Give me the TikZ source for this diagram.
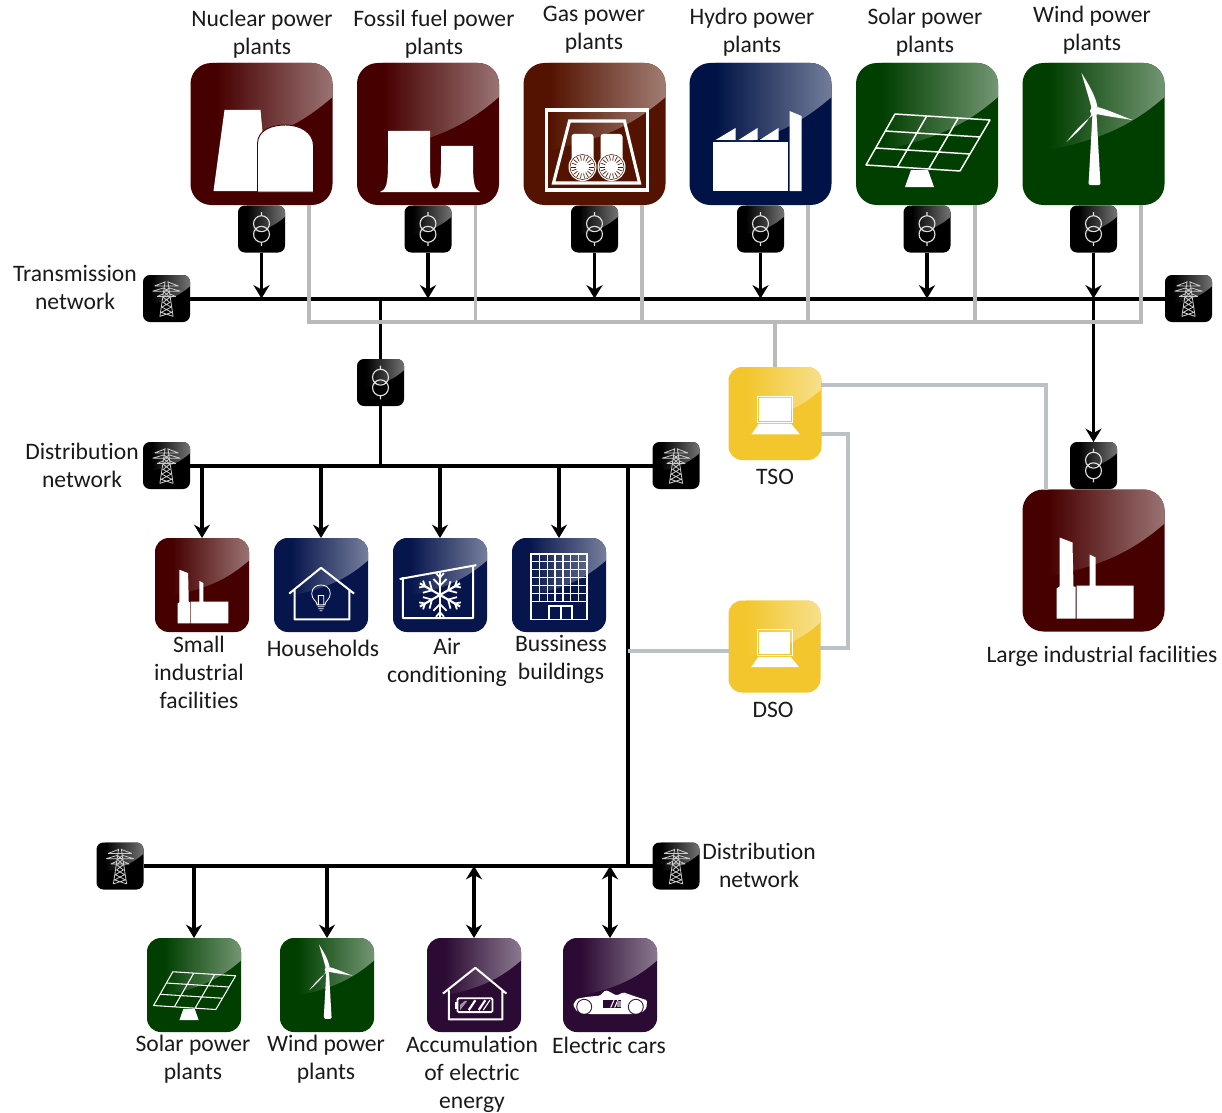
\documentclass[tikz,border=0pt]{standalone}
\usepackage{fontspec}
\setmainfont[Ligatures=CommonOff]{Carlito}
\usetikzlibrary{arrows.meta}
\definecolor{cRed}{HTML}{470000}
\definecolor{cBrown}{HTML}{541300}
\definecolor{cBlue}{HTML}{001346}
\definecolor{cBlueS}{HTML}{06154C}
\definecolor{cGreen}{HTML}{003F00}
\definecolor{cPurple}{HTML}{2B0A33}
\definecolor{cYellow}{HTML}{F2C62C}
\definecolor{cGrey}{HTML}{BABABA}
\definecolor{cGreyB}{HTML}{BCC1C6}
\definecolor{cText}{HTML}{1A1A1A}
\tikzset{
  iconbox/.style={inner sep=0pt,outer sep=0pt,draw=none},
  lab/.style={font=\fontsize{17.7}{21}\selectfont,align=center,inner sep=0pt,text=cText},
  pow/.style={line width=2.8pt,black},
  bus/.style={line width=3pt,black},
  sig/.style={line width=2.8pt,cGrey},
  sigb/.style={line width=2.8pt,cGreyB},
  tip/.style={-{Stealth[length=10pt,width=12pt]}},
  dtip/.style={{Stealth[length=10pt,width=12pt]}-{Stealth[length=10pt,width=12pt]}},
  ink/.style={fill=white,draw=none},
  wl/.style={draw=white,line width=#1,fill=none},
}
% name, cx, cy, size, colour, drawing
\newcommand\icn[6]{%
  \pgfmathsetmacro\rr{#4*0.11}%
  \node[iconbox,fill=#5,minimum size=#4*0.75pt,rounded corners=\rr pt] (#1) at (#2,#3) {};
  \begin{scope}[shift={(#2,#3)},scale=#4/142]
    \begin{scope}
      \clip[rounded corners=\rr pt] (-71,-71) rectangle (71,71);
      \shade[left color=#5,right color=#5!55!white] (-45,-71) -- (71,-71) -- (71,-37)
        .. controls (40,-10) and (10,5) .. (-45,16) -- cycle;
    \end{scope}
    #6
  \end{scope}}
\newcommand\trf[3]{\icn{#1}{#2}{#3}{47}{black}{%
  \draw[white!88!black,line width=0.85pt] (0,-16) circle[radius=24] (0,16) circle[radius=24]
    (0,-51) -- (0,-40) (0,40) -- (0,51);}}
\newcommand\twr[3]{\icn{#1}{#2}{#3}{47}{black}{%
  \draw[white!80!black,line width=0.6pt]
    (-4,-52) -- (-20,54) (4,-52) -- (20,54)
    (-36,-38) -- (36,-38) (-42,-22) -- (42,-22) (-28,-6) -- (28,-6)
    (-36,-38) -- (-4,-50) (36,-38) -- (4,-50) (-42,-22) -- (-8,-32) (42,-22) -- (8,-32)
    (-28,-6) -- (-10,-14) (28,-6) -- (10,-14)
    (-8,-32) -- (8,-20) -- (-10,-4) -- (10,12) -- (-14,26) -- (16,42) -- (-20,54)
    (8,-32) -- (-8,-20) -- (10,-4) -- (-10,12) -- (14,26) -- (-16,42) -- (20,54);}}
\newcommand\factory{%
  \fill[ink] (-34,-23) -- (-21,-18) -- (-20,26) -- (-18,26) -- (-18,58) -- (-37,58) -- (-37,28) -- (-34,26) -- cycle;
  \fill[ink] (-4,-6) -- (2,-3) -- (2,25) -- (40,25) -- (40,58) -- (-17,58) -- (-17,25) -- (-4,25) -- cycle;}
\newcommand\panel[1]{%
  \draw[white,line width=#1,line join=round] (-32,-20) -- (63,-14) -- (33,37) -- (-61,31) -- cycle
    (-0.3,-18) -- (-29.7,33) (31.3,-16) -- (1.7,35)
    (-41.7,-3) -- (53,3) (-51.3,14) -- (43,20);
  \fill[ink] (-16,36) -- (1,36) -- (7,53) -- (-22,53) -- cycle;}
\newcommand\turbine{%
  \fill[ink,rounded corners=1pt] (-1,-20) -- (3,-20) -- (7,51) -- (-5,51) -- cycle;
  \fill[ink] (1,-23) circle[radius=4.5];
  \fill[ink] (-2,-26) .. controls (-5,-38) and (-9,-50) .. (-12,-61) .. controls (-5,-50) and (2,-38) .. (4,-27) -- cycle;
  \fill[ink] (4,-27) .. controls (15,-24) and (28,-18) .. (39,-14) .. controls (26,-16) and (12,-18) .. (3,-20) -- cycle;
  \fill[ink] (3,-21) .. controls (-7,-15) and (-18,-4) .. (-27,8) .. controls (-17,-1) and (-7,-10) .. (-2,-20) -- cycle;}
\newcommand\laptop{%
  \fill[ink] (-24,-23) rectangle (24,11);
  \draw[white,line width=0.6pt] (-27,-26) rectangle (27,13);
  \fill[ink] (-25,16) -- (25,16) -- (38,32) -- (-36,32) -- cycle;}
\newcommand\wheel[2]{%
  \fill[ink] (#1,#2) circle[radius=14];
  \draw[cBrown,line width=0.4pt] (#1,#2) circle[radius=12.5];
  \foreach \a in {0,20,...,340} {\draw[cBrown,line width=0.5pt] (#1,#2) ++(\a:6.5) -- ++(\a:5);}}
\begin{document}
\begin{tikzpicture}[x=0.75pt,y=-0.75pt]
\path[use as bounding box,fill=white] (0,0) rectangle (1222,1113);

% --- large generation icons
\icn{nuc}{261.5}{134}{142}{cRed}{%
  \fill[ink] (-37,-24) -- (-1,-24) -- (3,20) -- (2,57) -- (-48,57) -- cycle;
  \fill[white,draw=cRed,line width=0.7pt] (-4,58) -- (-4,10) .. controls (-4,-4) and (10,-9) .. (24,-9) .. controls (38,-9) and (52,-2) .. (52,12) -- (52,58) -- cycle;}
\icn{fos}{428}{134}{142}{cRed}{%
  \fill[ink] (-48,58) .. controls (-42,56) and (-40,50) .. (-40,30) -- (-40,-3) -- (2,-3) -- (2,30)
    .. controls (2,48) and (4,55) .. (7,55) .. controls (11,55) and (13,48) .. (13,30) -- (13,12) -- (45,12) -- (45,30)
    .. controls (45,50) and (47,56) .. (52,58) -- cycle;}
\icn{gas}{594.5}{134}{142}{cBrown}{%
  \draw[wl=2.3pt] (-48,-24) rectangle (53,56);
  \draw[wl=2.3pt] (-25,-13) -- (30,-13) -- (45,49) -- (-41,49) -- cycle;
  \fill[ink,rounded corners=2pt] (-23,0) rectangle (-1,28);
  \fill[ink,rounded corners=2pt] (6,0) rectangle (28,28);
  \wheel{-12}{33}\wheel{17}{33}}
\icn{hyd}{760.5}{134}{142}{cBlue}{%
  \fill[ink] (-48,8) rectangle (27,57);
  \fill[ink] (-45,6) -- (-25,-6) -- (-25,6) -- cycle (-22,6) -- (-3,-6) -- (-3,6) -- cycle (-1,6) -- (18,-6) -- (18,6) -- cycle;
  \fill[ink] (29,-23) -- (41,-18) -- (41,57) -- (29,57) -- cycle;}
\icn{sol}{927}{134}{142}{cGreen}{\panel{1.1pt}}
\icn{win}{1093.5}{134}{142}{cGreen}{\turbine}

% --- transformers below the plants
\trf{t1}{261.5}{229}\trf{t2}{428}{229}\trf{t3}{594.5}{229}
\trf{t4}{760.5}{229}\trf{t5}{927}{229}\trf{t6}{1093.5}{229}
\trf{t7}{380.5}{382.5}\trf{t8}{1093.5}{465.5}

% --- pylons
\twr{tw1}{166.5}{298.5}\twr{tw2}{1188.5}{298.5}
\twr{tw3}{166.5}{465.5}\twr{tw4}{676}{465.5}
\twr{tw5}{120}{866}\twr{tw6}{676}{866}

% --- consumers
\icn{sm1}{202}{585}{94}{cRed}{\factory}
\icn{sm2}{321}{585}{94}{cBlueS}{%
  \draw[wl=1.5pt,line join=round] (-48,13) -- (0,-26) -- (50,13) (-40,6) -- (-40,52) -- (43,52) -- (43,6);
  \draw[wl=0.6pt] (-6,30) .. controls (-6,24) and (-14,22) .. (-14,13) .. controls (-14,4) and (-7,0) .. (0,0)
    .. controls (7,0) and (14,4) .. (14,13) .. controls (14,22) and (6,24) .. (6,30) -- cycle
    (-5,33) -- (5,33) (-4,36) -- (4,36) (-2,39) -- (2,39) (-4,30) -- (-4,16) -- (4,16) -- (4,30);}
\icn{sm3}{440}{585}{94}{cBlueS}{%
  \draw[wl=1.5pt,line join=round] (-61,-9) -- (55,-30) (-56,-12) -- (-56,50) -- (50,50) -- (50,-28);
  \begin{scope}[shift={(0,15)}]
    \foreach \a in {0,60,...,300} {\begin{scope}[rotate=\a]
      \draw[white,line width=1.6pt] (0,0) -- (0,-35);
      \draw[white,line width=1.3pt] (-10,-24) -- (0,-14) -- (10,-24) (-6,-33) -- (0,-26) -- (6,-33);
    \end{scope}}
  \end{scope}}
\icn{sm4}{559}{585}{94}{cBlueS}{%
  \draw[wl=1.2pt] (-42,-47) rectangle (42,52) (-42,25) -- (42,25) (-15,32) rectangle (20,52) (3,32) -- (3,52);
  \foreach \k in {-30,-18,-6,6,18,30} {\draw[wl=0.8pt] (\k,-47) -- (\k,25);}
  \foreach \k in {-35,-23,-11,1,13} {\draw[wl=0.8pt] (-42,\k) -- (42,\k);}}
\icn{lrg}{1093.5}{560.5}{142}{cRed}{\factory}

% --- operators
\icn{tso}{775}{413.5}{93}{cYellow}{\laptop}
\icn{dso}{774.5}{646.5}{92}{cYellow}{\laptop}

% --- lower distribution network
\icn{bt1}{194}{985}{94}{cGreen}{\panel{0.8pt}}
\icn{bt2}{327}{985}{94}{cGreen}{\turbine}
\icn{bt3}{474}{985}{94}{cPurple}{%
  \draw[wl=1.5pt,line join=round] (-47,13) -- (2,-26) -- (49,13) (-38,8) -- (-38,52) -- (43,52) -- (43,8);
  \draw[wl=1.4pt,rounded corners=1pt] (-25,20) rectangle (28,41);
  \fill[ink] (-29,25) rectangle (-25,36);
  \fill[white!55!cPurple] (-21,38) -- (-21,30) -- (-14,24) -- (-10,24) -- cycle;
  \draw[wl=1.6pt] (-8,38) -- (2,23) (7,38) -- (17,23);
  \draw[wl=0.8pt] (14,38) -- (24,23);}
\icn{bt4}{610}{985}{94}{cPurple}{%
  \fill[ink,rounded corners=1pt] (-56,30) -- (-50,21) -- (-35,18) -- (-15,16) -- (-7,8) -- (-3,9) -- (10,16) -- (20,11) -- (40,18) -- (56,23) -- (55,35) -- (49,41) -- (35,44) -- (-30,44) -- (-50,40) -- cycle;
  \fill[cPurple] (-39,33) circle[radius=12] (39,33) circle[radius=12];
  \fill[ink] (-39,33) circle[radius=10.5] (39,33) circle[radius=10.5];
  \fill[cPurple] (-11,23) rectangle (17,34);
  \draw[wl=0.8pt] (1,34) -- (6,23) (7,34) -- (12,23);
  \fill[white!55!cPurple] (11,24) rectangle (16,33);}

% --- anchors
\coordinate (g1) at (309,322);\coordinate (g2) at (475.5,322);\coordinate (g3) at (642,322);
\coordinate (g4) at (808,322);\coordinate (g5) at (975,322);\coordinate (g6) at (1141,322);
\coordinate (jn) at (628,465.5);
\coordinate (tsoA) at (821,385);\coordinate (tsoB) at (821,434);
\coordinate (lrgA) at (1046,490);\coordinate (dsoA) at (820,648);\coordinate (dsoB) at (729,651);

% --- power connections
\draw[bus] (tw1) -- (tw2);
\draw[bus] (tw3) -- (tw4);
\draw[bus] (tw5) -- (tw6);
\foreach \n in {t1,t2,t3,t4,t5,t6} {\draw[pow,tip] (\n.south) -- (\n.south |- tw1);}
\draw[pow,tip] (t6.south |- tw1) -- (t8.north);
\draw[pow] (t7.north |- tw1) -- (t7.north);
\draw[pow] (t7.south) -- (t7.south |- tw3);
\draw[pow] (jn) -- (jn |- tw6);
\foreach \n in {sm1,sm2,sm3,sm4} {\draw[pow,tip] (\n.north |- tw3) -- (\n.north);}
\foreach \n in {bt1,bt2} {\draw[pow,tip] (\n.north |- tw5) -- (\n.north);}
\foreach \n in {bt3,bt4} {\draw[pow,dtip] (\n.north |- tw5) -- (\n.north);}

% --- signal connections
\draw[sig] (g1 |- nuc.south) -- (g1) -- (g6) -- (g6 |- win.south);
\draw[sig] (g2 |- fos.south) -- (g2);
\draw[sig] (g3 |- gas.south) -- (g3);
\draw[sig] (g4 |- hyd.south) -- (g4);
\draw[sig] (g5 |- sol.south) -- (g5);
\draw[sig] (tso.north) -- (tso.north |- g1);
\draw[sigb] (tsoA) -- (tsoA -| lrgA) -- (lrgA);
\draw[sigb] (tsoB) -- (848,434) -- (848,648) -- (dsoA);
\draw[sigb] (dsoB) -- (dsoB -| jn);

% --- labels
\node[lab] (l1) at (262,34) {Nuclear power\\plants};
\node[lab] (l2) at (434,34) {Fossil fuel power\\plants};
\node[lab] (l3) at (594,30) {Gas power\\plants};
\node[lab] (l4) at (752,32) {Hydro power\\plants};
\node[lab] (l5) at (925,32) {Solar power\\plants};
\node[lab] (l6) at (1092,30) {Wind power\\plants};
\node[lab] (l7) at (75,287) {Transmission\\network};
\node[lab] (l8) at (82,465) {Distribution\\network};
\node[lab] (l9) at (199,672) {Small\\industrial\\facilities};
\node[lab] (l10) at (323,648) {Households};
\node[lab] (l11) at (447,662) {Air\\conditioning};
\node[lab] (l12) at (561,659) {Bussiness\\buildings};
\node[lab] (l13) at (775,477) {TSO};
\node[lab] (l14) at (773,710) {DSO};
\node[lab] (l15) at (1102,656) {Large industrial facilities};
\node[lab] (l16) at (759,865) {Distribution\\network};
\node[lab] (l17) at (193,1059) {Solar power\\plants};
\node[lab] (l18) at (326,1059) {Wind power\\plants};
\node[lab] (l19) at (472,1074) {Accumulation\\of electric\\energy};
\node[lab] (l20) at (609,1045) {Electric cars};
\end{tikzpicture}
\end{document}
